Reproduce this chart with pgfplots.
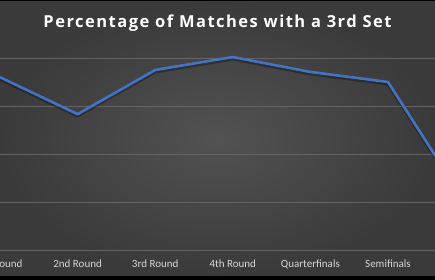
\documentclass[border=0pt]{standalone}
\usepackage{pgfplots}
\pgfplotsset{compat=1.18}
\usepackage{fontspec}
\setmainfont{Carlito}
\newfontfamily\titlefont[LetterSpace=9]{Open Sans}
\definecolor{lineblue}{RGB}{68,114,196}
\definecolor{bgin}{RGB}{82,82,82}
\definecolor{bgout}{RGB}{58,58,58}
\definecolor{gridc}{RGB}{100,100,100}
\definecolor{labc}{RGB}{215,215,215}
\begin{document}
\begin{tikzpicture}[x=1pt,y=1pt]
\fill[black] (0,-30) rectangle (435,250);
\shade[inner color=bgin, outer color=bgout] (0,-26) rectangle (435,248);
\node[text=white, font=\titlefont\bfseries\fontsize{16.5}{18}\selectfont] at (217.5,227) {Percentage of Matches with a 3rd Set};
\begin{axis}[
  at={(0,0)}, anchor=south west,
  scale only axis, width=435pt, height=240pt,
  xmin=0, xmax=5.606, ymin=0, ymax=50,
  axis line style={draw=none},
  tick style={draw=none},
  ytick={0,10,20,30,40}, yticklabels={},
  ymajorgrids, grid style={gridc, line width=0.8pt},
  xtick={0,1,2,3,4,5,6},
  xticklabels={1st Round,2nd Round,3rd Round,4th Round,Quarterfinals,Semifinals,Final},
  xticklabel style={text=labc, font=\fontsize{11}{12}\selectfont, yshift=-6pt},
]
\addplot[black, opacity=0.3, line width=3pt, line join=round, forget plot, /tikz/yshift=-2pt] coordinates {
(0,36.0) (1,28.3) (2,37.5) (3,40.2) (4,37.1) (5,35.0) (6,9.8)};
\addplot[lineblue, line width=2.6pt, line join=round] coordinates {
(0,36.0) (1,28.3) (2,37.5) (3,40.2) (4,37.1) (5,35.0) (6,9.8)};
\end{axis}
\pgfresetboundingbox
\useasboundingbox (0,-30) rectangle (435,250);
\end{tikzpicture}
\end{document}
